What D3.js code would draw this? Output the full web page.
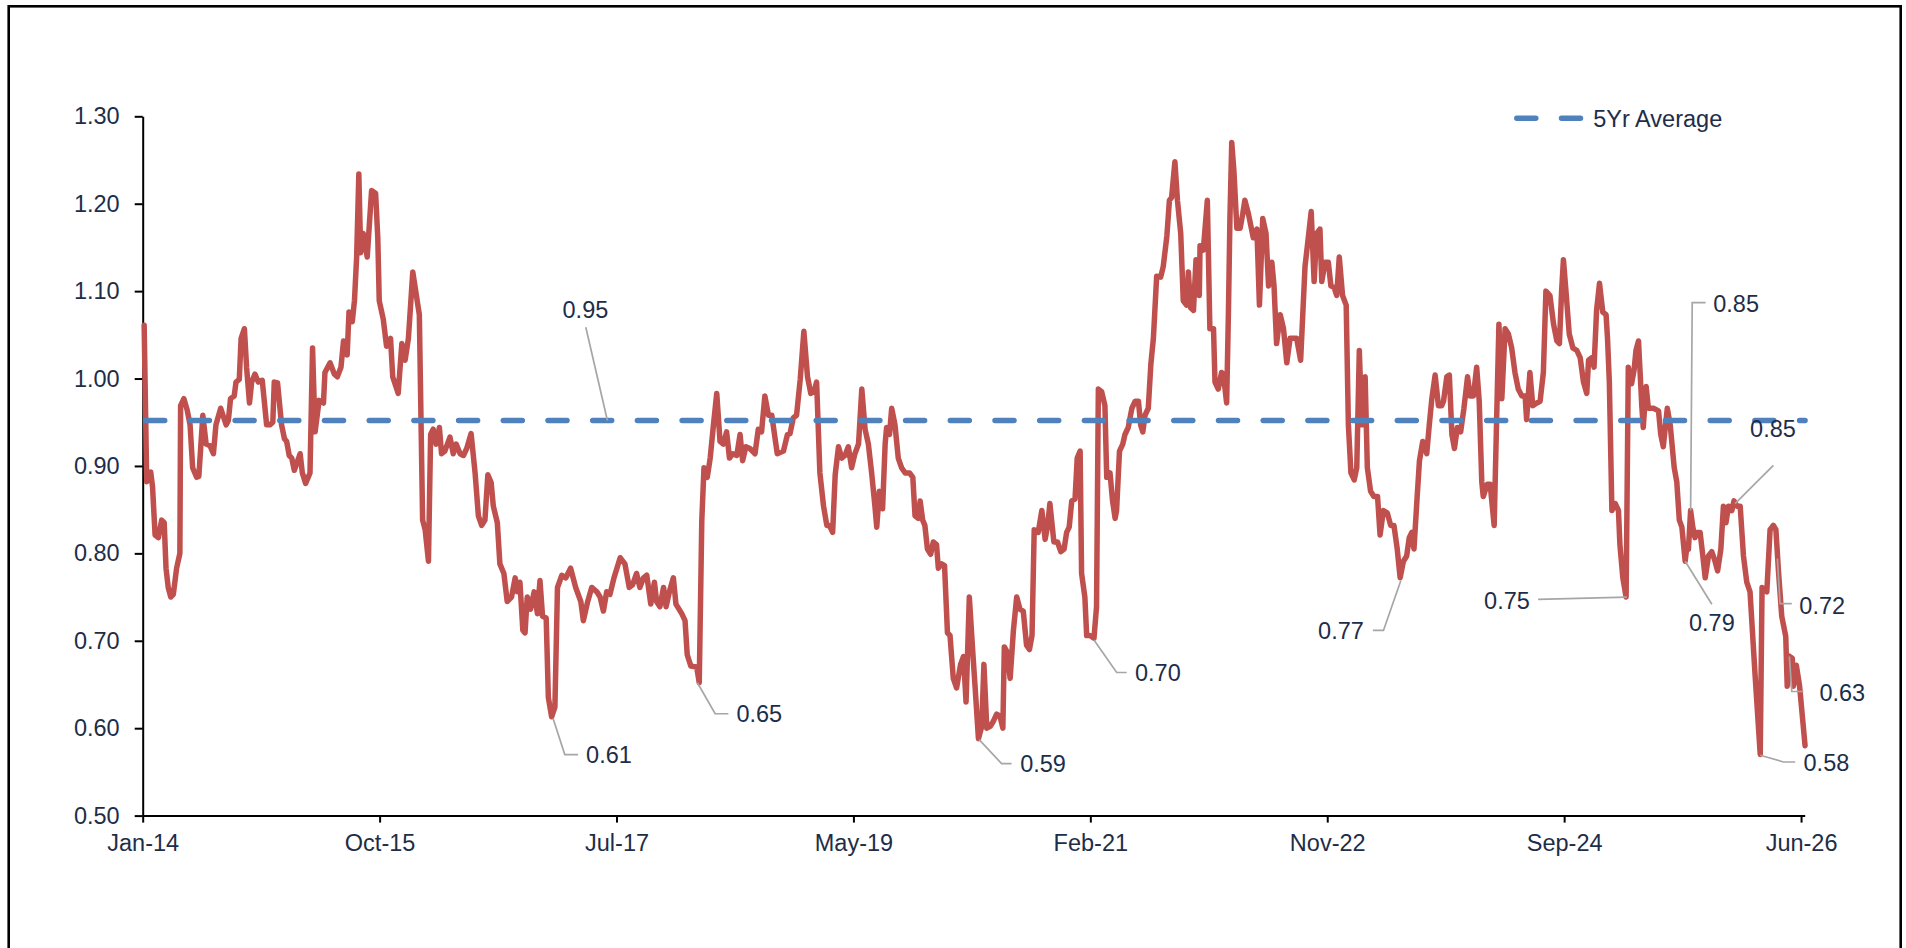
<!DOCTYPE html>
<html>
<head>
<meta charset="utf-8">
<script src="https://cdn.jsdelivr.net/npm/d3@7"></script>
<style>
  body { margin: 0; background: #fff; }
  svg text { font-family: "Liberation Sans", Arial, sans-serif; }
</style>
</head>
<body>
<div id="chart"></div>
<script>
// x axis: an Excel date axis, one major tick every 650 days from 1 Jan 2014
var startDate = new Date(Date.UTC(2014, 0, 1))
var tickStepDays = 650
var tickLabels = ["Jan-14", "Oct-15", "Jul-17", "May-19", "Feb-21", "Nov-22", "Sep-24", "Jun-26"]
var yTicks = [0.5, 0.6, 0.7, 0.8, 0.9, 1.0, 1.1, 1.2, 1.3]

var avg5yr = 0.952
var legendLabel = "5Yr Average"

var obsDay = [
  4, 11, 22, 27, 34, 43, 52, 59, 64, 70, 77, 84, 93, 102, 104, 113, 122, 130, 137, 148,
  154, 165, 174, 185, 194, 201, 214, 229, 235, 241, 251, 256, 265, 270, 279, 285, 293, 299, 308, 317,
  328, 340, 349, 357, 361, 370, 381, 389, 395, 402, 409, 416, 432, 438, 447, 459, 466, 473, 484, 496,
  500, 514, 526, 534, 544, 551, 561, 566, 575, 581, 587, 593, 598, 605, 616, 628, 639, 645, 649, 660,
  669, 680, 686, 701, 711, 720, 729, 741,
  759, 768, 775, 784, 790, 797, 805, 814, 820, 829, 843, 852, 860, 871, 880, 889, 901, 912, 921, 930,
  939, 947, 956, 962, 973, 980, 991, 1000, 1012, 1022, 1028, 1035, 1043, 1049, 1055, 1064, 1074, 1083, 1090, 1097,
  1107, 1113, 1122, 1131, 1138, 1150, 1161, 1174, 1188, 1202, 1209, 1221, 1232, 1246, 1255, 1264, 1273, 1282, 1293, 1310,
  1323, 1335, 1344, 1355, 1364, 1374, 1383, 1394, 1404, 1410, 1419, 1429, 1436, 1445, 1456, 1463, 1479, 1488, 1494, 1504,
  1520, 1527, 1534, 1540, 1549, 1557, 1566, 1575, 1584, 1593, 1602, 1610, 1619, 1630, 1639, 1646, 1655, 1666, 1680, 1689,
  1698, 1707, 1717, 1726, 1741, 1758, 1769, 1776, 1785, 1794, 1804, 1814, 1824, 1833, 1842, 1849, 1858, 1868, 1877, 1884,
  1893, 1900, 1909, 1918, 1927, 1936, 1945, 1954, 1964, 1973, 1982, 1991, 2000, 2009, 2014, 2021, 2030, 2037, 2041, 2049,
  2055, 2064, 2073, 2082, 2092, 2104, 2113, 2119, 2128, 2133, 2140, 2146, 2153, 2162, 2169, 2178, 2183, 2192, 2200, 2208,
  2215, 2224, 2233, 2244, 2252, 2259, 2268,
  2277, 2284, 2293, 2302, 2308, 2316, 2325, 2334, 2343, 2352, 2360, 2364, 2372, 2380, 2389, 2398, 2407, 2416, 2425, 2433,
  2440, 2446, 2457, 2467, 2476, 2483, 2489, 2500, 2510, 2519, 2528, 2535, 2542, 2549, 2558, 2564, 2572, 2576, 2585, 2590,
  2599, 2610, 2617, 2622, 2631, 2640, 2645, 2654, 2661, 2668, 2672, 2680, 2689, 2695, 2704, 2714, 2723, 2732, 2738, 2744,
  2750, 2759, 2766, 2773, 2782, 2793, 2800, 2810, 2817, 2823, 2832, 2839, 2848, 2855, 2864, 2869, 2875, 2883, 2890, 2899,
  2901, 2910, 2921, 2928, 2938, 2942, 2951, 2960, 2965, 2974, 2979, 2983, 2988, 2994, 3002, 3011, 3018, 3024, 3034,
  3047, 3057, 3064, 3073, 3082, 3089, 3098, 3104, 3111, 3121, 3130, 3139, 3148, 3157, 3166, 3177, 3189, 3198, 3206, 3214,
  3221, 3230, 3235, 3244, 3253, 3260, 3269, 3276, 3283, 3292, 3302, 3308, 3315, 3324, 3331, 3338, 3345, 3354, 3360, 3369,
  3378, 3388, 3395, 3404, 3415, 3424, 3433, 3442, 3450, 3459, 3468, 3475, 3482, 3488, 3496, 3503, 3512, 3523, 3530, 3537,
  3546, 3555, 3564, 3569, 3578, 3585, 3592, 3599, 3607, 3616, 3625, 3635, 3642, 3651, 3660, 3667, 3674, 3678, 3689, 3697,
  3708, 3715, 3721, 3729, 3738, 3747, 3756, 3765, 3774, 3784, 3793, 3797, 3806, 3814,
  3825, 3834, 3843, 3850, 3861, 3871, 3880, 3887, 3893, 3898, 3905, 3914, 3924, 3935, 3944, 3953, 3962, 3967, 3976, 3982,
  3989, 3997, 4006, 4015, 4019, 4024, 4031, 4040, 4049, 4053, 4061, 4070, 4076, 4085, 4092, 4097, 4104, 4113, 4117, 4125,
  4131, 4145, 4159, 4165, 4172, 4183, 4191, 4202, 4209, 4216, 4223, 4232, 4236, 4241, 4247, 4253, 4259, 4264, 4273, 4280,
  4287, 4296, 4305, 4314, 4321, 4330, 4337, 4344, 4351, 4360, 4366, 4374, 4383, 4392, 4401, 4410, 4424, 4438, 4443, 4456,
  4465, 4474, 4481, 4488, 4497, 4508, 4512, 4515, 4526, 4529, 4537, 4546, 4561
]
var ratio = [
  1.061, 0.882, 0.893, 0.876, 0.821, 0.818, 0.838, 0.835, 0.783, 0.761, 0.750, 0.753, 0.783, 0.800, 0.969, 0.977, 0.964, 0.947, 0.898, 0.887,
  0.888, 0.958, 0.925, 0.923, 0.914, 0.947, 0.966, 0.947, 0.952, 0.977, 0.980, 0.996, 0.999, 1.046, 1.057, 1.013, 0.972, 0.996, 1.005, 0.996,
  0.998, 0.947, 0.947, 0.950, 0.996, 0.995, 0.947, 0.931, 0.928, 0.912, 0.909, 0.895, 0.914, 0.892, 0.880, 0.892, 1.035, 0.939, 0.975, 0.972,
  1.007, 1.018, 1.005, 1.002, 1.013, 1.043, 1.027, 1.076, 1.065, 1.089, 1.139, 1.234, 1.144, 1.166, 1.139, 1.215, 1.212, 1.161, 1.089, 1.068,
  1.037, 1.046, 1.002, 0.983, 1.040, 1.021, 1.046, 1.122,
  1.073, 0.838, 0.827, 0.791, 0.936, 0.942, 0.925, 0.944, 0.914, 0.917, 0.933, 0.914, 0.925, 0.914, 0.912, 0.920, 0.937, 0.892, 0.843, 0.832,
  0.838, 0.890, 0.881, 0.854, 0.835, 0.788, 0.777, 0.745, 0.750, 0.772, 0.756, 0.767, 0.712, 0.709, 0.750, 0.736, 0.756, 0.731, 0.769, 0.728,
  0.726, 0.635, 0.613, 0.624, 0.761, 0.775, 0.772, 0.783, 0.761, 0.745, 0.723, 0.745, 0.761, 0.756, 0.750, 0.734, 0.756, 0.753, 0.772, 0.795,
  0.788, 0.761, 0.764, 0.777, 0.761, 0.772, 0.775, 0.742, 0.767, 0.745, 0.739, 0.761, 0.739, 0.756, 0.772, 0.742, 0.731, 0.723, 0.684, 0.671,
  0.670, 0.652, 0.838, 0.898, 0.887, 0.909, 0.947, 0.983, 0.928, 0.925, 0.939, 0.909, 0.914, 0.912, 0.936, 0.906, 0.922, 0.920, 0.914, 0.942,
  0.939, 0.980, 0.958, 0.958, 0.914, 0.917, 0.936, 0.937, 0.955, 0.958, 0.999, 1.054, 1.002, 0.983, 0.985, 0.996, 0.892, 0.854, 0.832, 0.832,
  0.824, 0.890, 0.922, 0.909, 0.912, 0.922, 0.898, 0.914, 0.925, 0.988, 0.942, 0.925, 0.892, 0.854, 0.830, 0.871, 0.851, 0.925, 0.944, 0.936,
  0.966, 0.947, 0.909, 0.898, 0.892, 0.892, 0.887, 0.843, 0.840, 0.860, 0.838, 0.832, 0.805, 0.799, 0.813, 0.810, 0.783, 0.788, 0.786, 0.709,
  0.706, 0.657, 0.646, 0.673, 0.682, 0.630, 0.750,
  0.690, 0.646, 0.588, 0.602, 0.673, 0.600, 0.602, 0.608, 0.616, 0.614, 0.600, 0.693, 0.687, 0.657, 0.712, 0.750, 0.736, 0.734, 0.695, 0.690,
  0.706, 0.827, 0.824, 0.849, 0.816, 0.832, 0.857, 0.813, 0.813, 0.802, 0.805, 0.824, 0.830, 0.860, 0.862, 0.909, 0.917, 0.777, 0.750, 0.706,
  0.706, 0.703, 0.739, 0.988, 0.985, 0.969, 0.887, 0.892, 0.860, 0.840, 0.849, 0.917, 0.925, 0.936, 0.944, 0.966, 0.974, 0.974, 0.947, 0.939,
  0.958, 0.966, 1.016, 1.046, 1.117, 1.116, 1.128, 1.163, 1.204, 1.207, 1.248, 1.204, 1.166, 1.089, 1.084, 1.122, 1.081, 1.078, 1.136, 1.095,
  1.152, 1.147, 1.204, 1.057, 1.057, 0.996, 0.988, 1.007, 1.005, 0.972, 1.078, 1.183, 1.270, 1.237, 1.172, 1.172, 1.188, 1.204, 1.188,
  1.161, 1.171, 1.084, 1.183, 1.166, 1.106, 1.133, 1.106, 1.040, 1.073, 1.057, 1.018, 1.046, 1.046, 1.046, 1.021, 1.128, 1.161, 1.191, 1.111,
  1.166, 1.171, 1.111, 1.133, 1.133, 1.106, 1.104, 1.095, 1.139, 1.095, 1.084, 0.947, 0.892, 0.884, 0.898, 1.032, 0.947, 1.002, 0.898, 0.871,
  0.865, 0.865, 0.821, 0.849, 0.846, 0.832, 0.832, 0.805, 0.772, 0.791, 0.797, 0.818, 0.824, 0.805, 0.860, 0.906, 0.928, 0.914, 0.947, 0.977,
  1.004, 0.969, 0.969, 0.974, 1.002, 1.004, 0.936, 0.920, 0.944, 0.939, 0.966, 1.002, 0.980, 0.980, 1.013, 0.974, 0.882, 0.865, 0.879, 0.879,
  0.832, 0.958, 1.062, 0.977, 1.057, 1.051, 1.035, 1.007, 0.988, 0.980, 0.980, 0.953, 1.007, 0.969,
  0.972, 0.974, 1.007, 1.100, 1.095, 1.062, 1.043, 1.040, 1.100, 1.136, 1.100, 1.051, 1.035, 1.032, 1.024, 0.996, 0.983, 1.021, 1.024, 1.013,
  1.078, 1.109, 1.076, 1.073, 1.046, 0.996, 0.849, 0.857, 0.849, 0.810, 0.772, 0.750, 1.013, 0.994, 1.010, 1.032, 1.043, 0.969, 0.944, 0.991,
  0.966, 0.966, 0.963, 0.936, 0.922, 0.966, 0.947, 0.898, 0.882, 0.838, 0.830, 0.791, 0.805, 0.805, 0.849, 0.830, 0.818, 0.824, 0.824, 0.799,
  0.772, 0.797, 0.802, 0.791, 0.780, 0.805, 0.854, 0.835, 0.854, 0.849, 0.860, 0.854, 0.854, 0.797, 0.767, 0.756, 0.660, 0.570, 0.761, 0.756,
  0.827, 0.832, 0.827, 0.780, 0.728, 0.705, 0.648, 0.683, 0.680, 0.648, 0.672, 0.648, 0.580
]

// data labels placed on the chart
var calloutText = ["0.95", "0.61", "0.65", "0.59", "0.70", "0.77", "0.75", "0.85", "0.85", "0.79", "0.72", "0.63", "0.58"]
var calloutDay = [1275, 1126, 1522, 2295, 2610, 3452, 4072, 4247, 4369, 4232, 4485, 4518, 4438]
var calloutValue = [0.952, 0.611, 0.652, 0.587, 0.701, 0.769, 0.750, 0.849, 0.857, 0.791, 0.794, 0.682, 0.569]

// where each label and its leader sit, in px from the point
var calloutLayout = [
  {leader: [[-21.6, -93.2]], text: [-22, -111], anchor: "middle"},
  {leader: [[11.7, 36], [25, 36]], text: [33, 36], anchor: "start"},
  {leader: [[17.7, 31], [31, 31]], text: [39, 31], anchor: "start"},
  {leader: [[22.4, 24], [32.4, 24]], text: [41, 24], anchor: "start"},
  {leader: [[22.7, 32.6], [32.7, 32.6]], text: [41, 32.6], anchor: "start"},
  {leader: [[-17.4, 50], [-28, 50]], text: [-37, 50], anchor: "end"},
  {leader: [[-88.7, 2.4]], text: [-97, 3.8], anchor: "end"},
  {leader: [[1.6, -208], [15, -208]], text: [22.6, -207], anchor: "start"},
  {leader: [[38.3, -38.2]], text: [15, -75], anchor: "start"},
  {leader: [[26.7, 43]], text: [26.7, 62], anchor: "middle"},
  {leader: [[2.7, 45], [14.4, 45]], text: [22, 46.7], anchor: "start"},
  {leader: [[2.4, 35], [14, 35]], text: [30, 36.3], anchor: "start"},
  {leader: [[23.3, 6.7], [35, 6.7]], text: [43.3, 7], anchor: "start"}
]

var textColor = "#1e2d48"
var fontSize = 23.5
var margin = {top: 116.3, left: 142.7}
var width = 1662, height = 699.3

var svg = d3.select("#chart").append("svg")
  .attr("width", 1906)
  .attr("height", 948)

// outer frame, its bottom edge sits below the picture
svg.append("rect")
  .attr("x", 8.7).attr("y", 6.3)
  .attr("width", 1892).attr("height", 1000)
  .attr("fill", "none")
  .attr("stroke", "#000")
  .attr("stroke-width", 2.6)

var graph = svg.append("g")
  .attr("transform", "translate(" + margin.left + "," + margin.top + ")")

var dayToDate = d => d3.utcDay.offset(startDate, d)
var lastTick = tickStepDays * (tickLabels.length - 1)

var x = d3.scaleUtc()
  .domain([startDate, dayToDate(lastTick + 10)])
  .range([0, width])

var y = d3.scaleLinear()
  .domain([0.5, 1.3])
  .range([height, 0])

var tickDates = tickLabels.map((t, i) => dayToDate(i * tickStepDays))

var xAxis = graph.append("g")
  .attr("transform", "translate(0," + height + ")")
  .call(d3.axisBottom(x)
    .tickValues(tickDates)
    .tickFormat((d, i) => tickLabels[i])
    .tickSize(7)
    .tickSizeOuter(0)
    .tickPadding(12))

var yAxis = graph.append("g")
  .call(d3.axisLeft(y)
    .tickValues(yTicks)
    .tickFormat(d3.format(".2f"))
    .tickSize(8)
    .tickSizeOuter(0)
    .tickPadding(15))

graph.selectAll(".domain, .tick line")
  .attr("stroke", "#000")
  .attr("stroke-width", 2)

graph.selectAll(".tick text")
  .attr("fill", textColor)
  .style("font-size", fontSize + "px")
  .style("font-family", "'Liberation Sans', Arial, sans-serif")

// ratio line
var points = obsDay.map((d, i) => ({date: dayToDate(d), value: ratio[i]}))

var line = d3.line()
  .x(d => x(d.date))
  .y(d => y(d.value))

graph.append("path")
  .datum(points)
  .attr("d", line)
  .attr("fill", "none")
  .attr("stroke", "#c0504d")
  .attr("stroke-width", 5.5)
  .attr("stroke-linejoin", "round")
  .attr("stroke-linecap", "round")

// 5 year average
var dashStyle = sel => sel
  .attr("stroke", "#4f81bd")
  .attr("stroke-width", 5.5)
  .attr("stroke-linecap", "round")
  .attr("stroke-dasharray", "19 25.7")

graph.append("line")
  .attr("x1", x(startDate))
  .attr("x2", x(points[points.length - 1].date))
  .attr("y1", y(avg5yr))
  .attr("y2", y(avg5yr))
  .attr("stroke-dashoffset", -3)
  .call(dashStyle)

// callouts
var callouts = calloutText.map((t, i) => ({
  text: t,
  px: x(dayToDate(calloutDay[i])),
  py: y(calloutValue[i]),
  layout: calloutLayout[i]
}))

graph.selectAll(".leader")
  .data(callouts)
  .enter().append("path")
  .attr("class", "leader")
  .attr("d", c => d3.line()([[c.px, c.py]].concat(c.layout.leader.map(p => [c.px + p[0], c.py + p[1]]))))
  .attr("fill", "none")
  .attr("stroke", "#a6a6a6")
  .attr("stroke-width", 1.7)

graph.selectAll(".callout")
  .data(callouts)
  .enter().append("text")
  .attr("class", "callout")
  .attr("x", c => c.px + c.layout.text[0])
  .attr("y", c => c.py + c.layout.text[1])
  .attr("dy", "0.35em")
  .attr("text-anchor", c => c.layout.anchor)
  .attr("fill", textColor)
  .style("font-size", fontSize + "px")
  .text(c => c.text)

// legend
var legend = svg.append("g")
  .attr("transform", "translate(1516.8,118.3)")

legend.append("line")
  .attr("x1", 0).attr("x2", 63.7)
  .attr("y1", 0).attr("y2", 0)
  .call(dashStyle)

legend.append("text")
  .attr("x", 76.5)
  .attr("dy", "0.35em")
  .attr("fill", textColor)
  .style("font-size", fontSize + "px")
  .text(legendLabel)
</script>
</body>
</html>
